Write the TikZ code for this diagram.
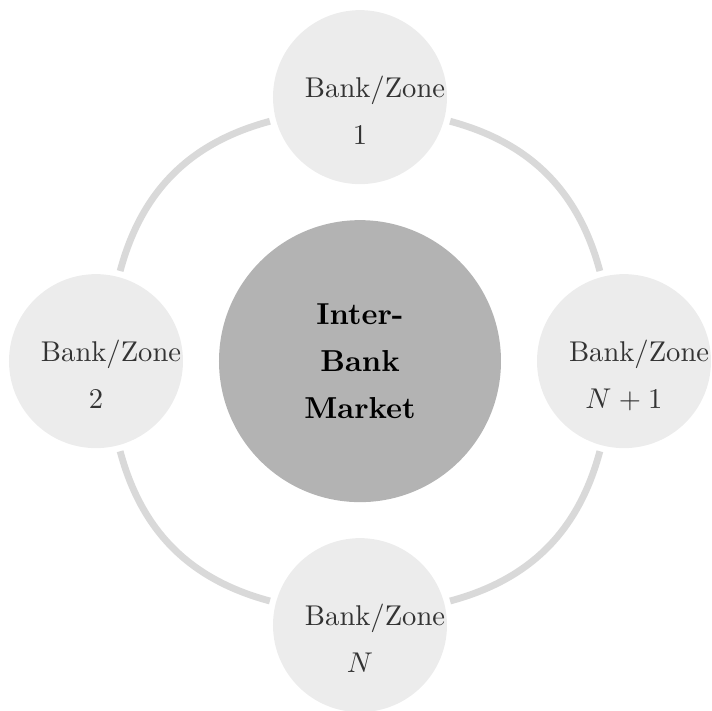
\documentclass[tikz,border=0pt]{standalone}
\usepackage{tikz}
\usepackage{amsmath}
\usepackage{amssymb}

\definecolor{bankfill}{HTML}{ECECEC}
\definecolor{marketfill}{HTML}{B3B3B3}
\definecolor{linkgray}{HTML}{D9D9D9}
\definecolor{banktextgray}{HTML}{333333}

\begin{document}
\begin{tikzpicture}[
    bank/.style={circle, fill=bankfill, minimum size=60.9pt, inner sep=0pt, outer sep=2.2pt},
    banktext/.style={anchor=base, text width=38.5pt, align=center, inner sep=0pt, text=banktextgray, font=\fontsize{10}{16.5}\selectfont},
    market/.style={circle, fill=marketfill, minimum size=98.7pt, inner sep=0pt, align=center, font=\fontsize{10.6}{16.6}\selectfont\bfseries},
    link/.style={linkgray, line width=2.4pt}
  ]
            \useasboundingbox (-126pt, -122.2pt) rectangle (123.2pt, 126.4pt);
            \node[market] (mkt) at (0, 0) {Inter-\\Bank\\Market};
            \node[bank] (b1) at (0, 92.4pt) {};
            \node[bank] (b2) at (-92.4pt, 0) {};
            \node[bank] (bn) at (0, -92.4pt) {};
            \node[bank] (bn1) at (92.4pt, 0) {};
            \node[banktext] (t1) at (b1.center) {Bank/Zone\\1};
            \node[banktext] (t2) at (b2.center) {Bank/Zone\\2};
            \node[banktext] (tn) at (bn.center) {Bank/Zone\\$N$};
            \node[banktext] (tn1) at (bn1.center) {Bank/Zone\\$N+1$};
            \draw[link] (b1) to[bend right=30] (b2);
            \draw[link] (b2) to[bend right=30] (bn);
            \draw[link] (bn) to[bend right=30] (bn1);
            \draw[link] (bn1) to[bend right=30] (b1);
        \end{tikzpicture}
\end{document}
